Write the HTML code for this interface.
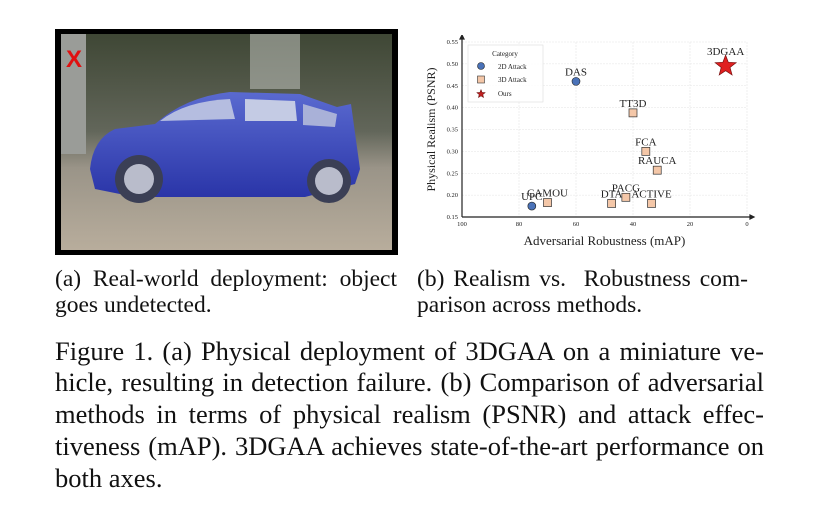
<!DOCTYPE html>
<html><head><meta charset="utf-8"><style>
body{margin:0;background:#fff;width:819px;height:527px;overflow:hidden;position:relative;font-family:"Liberation Serif",serif;color:#111}
.t{position:absolute;white-space:nowrap}
.j{position:absolute;white-space:nowrap;text-align:justify;text-align-last:justify}
.c{font-size:26.5px;left:55px;width:709px;line-height:30px}
.s{font-size:23.5px;line-height:26px}
</style></head><body>
<svg style="position:absolute;left:55px;top:29px" width="343" height="226">
<defs>
<linearGradient id="bg" x1="0" y1="0" x2="0" y2="1"><stop offset="0" stop-color="#3f4735"/><stop offset="0.45" stop-color="#62665a"/><stop offset="0.62" stop-color="#9a9488"/><stop offset="1" stop-color="#b8ad9c"/></linearGradient>
<linearGradient id="car" x1="0" y1="0" x2="0" y2="1"><stop offset="0" stop-color="#5a6ad0"/><stop offset="1" stop-color="#2a35a8"/></linearGradient>
</defs>
<rect width="343" height="226" fill="#000"/>
<rect x="6" y="5" width="331" height="216" fill="url(#bg)"/>
<rect x="6" y="5" width="25" height="120" fill="#9a9c98"/>
<rect x="195" y="5" width="50" height="55" fill="#c9ccc8" opacity="0.5"/>
<path d="M35 140 Q38 110 60 100 L100 95 Q130 68 175 63 L245 65 L282 78 L296 75 L305 140 L300 155 L250 168 L80 168 L40 160 Z" fill="url(#car)"/>
<path d="M105 92 Q130 72 175 70 L180 90 Z" fill="#b5bde0"/>
<path d="M190 70 L240 72 L242 92 L190 92 Z" fill="#c4cbe4"/>
<path d="M248 75 L282 85 L280 98 L248 96 Z" fill="#a9b1d8"/>
<circle cx="84" cy="150" r="24" fill="#3b3f55"/><circle cx="84" cy="150" r="15" fill="#b9bccb"/>
<circle cx="274" cy="152" r="22" fill="#3b3f55"/><circle cx="274" cy="152" r="14" fill="#b9bccb"/>
<text x="11" y="38" font-family="Liberation Sans,sans-serif" font-weight="bold" font-size="24" fill="#e01010">X</text>
</svg>

<svg id="chart" style="position:absolute;left:420px;top:35px" width="340" height="215" font-family="Liberation Serif,serif"></svg>

<div>
<div class="j s" style="left:55px;top:266px;width:342px">(a) Real-world deployment: object</div>
<div class="t s" style="left:55px;top:292px">goes undetected.</div>
</div>
<div>
<div class="j s" style="left:417px;top:266px;width:331px">(b) Realism vs.&nbsp; Robustness com-</div>
<div class="t s" style="left:417px;top:292px">parison across methods.</div>
</div>
<div>
<div class="j c" style="top:336px">Figure 1. (a) Physical deployment of 3DGAA on a miniature ve-</div>
<div class="j c" style="top:367px">hicle, resulting in detection failure. (b) Comparison of adversarial</div>
<div class="j c" style="top:399px">methods in terms of physical realism (PSNR) and attack effec-</div>
<div class="j c" style="top:431px">tiveness (mAP). 3DGAA achieves state-of-the-art performance on</div>
<div class="t c" style="top:463px">both axes.</div>
</div>

<script>
const names=["UPC","DAS","CAMOU","DTA","PACG","ACTIVE","RAUCA","FCA","TT3D","3DGAA"];
const cats=["2D","2D","3D","3D","3D","3D","3D","3D","3D","Ours"];
const mapVals=[75.5,60,70,47.5,42.5,33.5,31.5,35.5,40,7.5];
const psnrVals=[0.175,0.46,0.183,0.181,0.195,0.181,0.257,0.30,0.388,0.495];
const xTicks=[100,80,60,40,20,0];
const yTicks=[0.15,0.20,0.25,0.30,0.35,0.40,0.45,0.50,0.55];
const svg=document.getElementById('chart');const NS='http://www.w3.org/2000/svg';
const X0=42,X1=327,Y0=182,Y1=7;
const sx=v=>X0+(100-v)/100*(X1-X0);
const sy=v=>Y0-(v-0.15)/0.4*(Y0-Y1);
function mk(t,a,p){const e=document.createElementNS(NS,t);for(const k in a)e.setAttribute(k,a[k]);(p||svg).appendChild(e);return e;}
xTicks.forEach(v=>{const g=mk('line',{x1:sx(v),x2:sx(v),y1:Y1,y2:Y0,stroke:'#e4e4e4','stroke-width':0.6,'stroke-dasharray':'2,1'});

const t=mk('text',{x:sx(v),y:Y0+9,'font-size':6.5,'text-anchor':'middle',fill:'#222'});t.textContent=v;
});
yTicks.forEach(v=>{const g=mk('line',{x1:X0,x2:X1,y1:sy(v),y2:sy(v),stroke:'#e4e4e4','stroke-width':0.6,'stroke-dasharray':'2,1'});

const t=mk('text',{x:X0-4,y:sy(v)+2,'font-size':6.5,'text-anchor':'end',fill:'#222'});t.textContent=v.toFixed(2);
});
let a=mk('path',{d:`M${X0} ${Y0}H${X1+3} M${X1+3} ${Y0-2}l4 2l-4 2z M${X0} ${Y0}V${Y1-3} M${X0-2} ${Y1-3}l2 -4l2 4z`,stroke:'#222','stroke-width':1.2,fill:'#222'});

let xt=mk('text',{x:(X0+X1)/2,y:210,'font-size':13,'text-anchor':'middle',fill:'#222'});xt.textContent='Adversarial Robustness (mAP)';

let yt=mk('text',{x:0,y:0,'font-size':12,'text-anchor':'middle',fill:'#222',transform:`translate(15 ${(Y0+Y1)/2}) rotate(-90)`});yt.textContent='Physical Realism (PSNR)';

function star(cx,cy,r){let p=[];for(let i=0;i<10;i++){const rr=i%2?r*0.42:r,an=-Math.PI/2+i*Math.PI/5;p.push((cx+rr*Math.cos(an)).toFixed(1)+','+(cy+rr*Math.sin(an)).toFixed(1));}return p.join(' ');}
names.forEach((n,i)=>{const x=sx(mapVals[i]),y=sy(psnrVals[i]);let m;
if(cats[i]=='2D')m=mk('circle',{cx:x,cy:y,r:4,fill:'#4a72b8',stroke:'#222','stroke-width':0.6});
else if(cats[i]=='3D')m=mk('rect',{x:x-4,y:y-4,width:8,height:8,fill:'#f4c7a8',stroke:'#333','stroke-width':0.7});
else m=mk('polygon',{points:star(x,y,11),fill:'#e02020',stroke:'#7a1010','stroke-width':0.7});

const t=mk('text',{x:x,y:y-(cats[i]=='Ours'?11:6),'font-size':11,'text-anchor':'middle',fill:'#222'});t.textContent=n;
});
const lg=mk('g',{});
mk('rect',{x:48,y:10,width:75,height:57,fill:'#fff','fill-opacity':0.85,stroke:'#ddd','stroke-width':0.6},lg);
let lt=mk('text',{x:85,y:21,'font-size':7,'text-anchor':'middle',fill:'#222'},lg);lt.textContent='Category';
mk('circle',{cx:61,cy:31,r:3.5,fill:'#4a72b8',stroke:'#222','stroke-width':0.6},lg);
mk('rect',{x:57.5,y:41,width:7,height:7,fill:'#f4c7a8',stroke:'#333','stroke-width':0.6},lg);
mk('polygon',{points:star(61,59,4.5),fill:'#c02020',stroke:'#500','stroke-width':0.5},lg);
[['2D Attack',34],['3D Attack',47],['Ours',61]].forEach(([s,y])=>{const e=mk('text',{x:78,y:y,'font-size':7,fill:'#222'},lg);e.textContent=s;
});
</script>
</body></html>
